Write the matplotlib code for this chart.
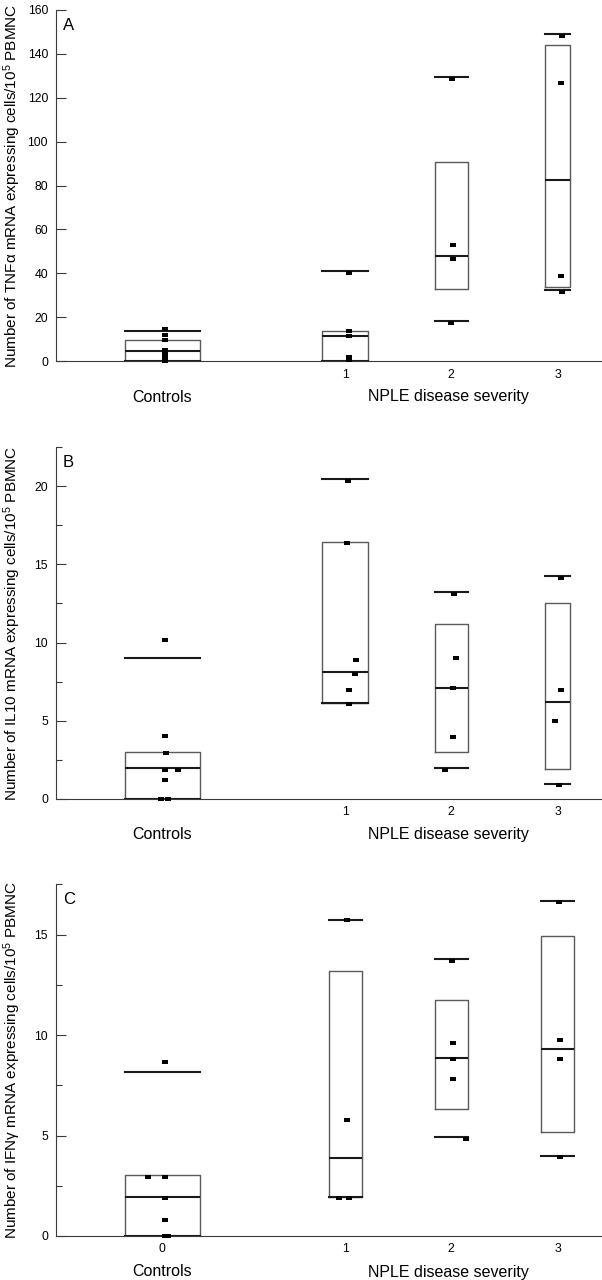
import matplotlib
matplotlib.use("Agg")
import matplotlib.pyplot as plt
import numpy as np
from matplotlib.path import Path

plt.rcParams['font.family'] = ['Liberation Sans', 'DejaVu Sans']
plt.rcParams['mathtext.fontset'] = 'custom'
plt.rcParams['mathtext.rm'] = 'Liberation Sans'
plt.rcParams['mathtext.default'] = 'regular'

# ---------------- data ----------------
positions = [-0.72, 1, 2, 3]          # Controls, severity 1, 2, 3

# Panel A: TNF-alpha
tnf_low  = [0.0, 0.0, 18.2, 32.4]
tnf_q1   = [0.0, 0.0, 32.7, 33.8]
tnf_med  = [4.5, 11.5, 48.0, 82.6]
tnf_q3   = [9.4, 13.9, 90.5, 144.1]
tnf_high = [13.9, 41.1, 129.5, 148.9]
tnf_ctrl = [14.5, 11.8, 9.5, 5.0, 3.8, 2.5, 1.3, 0.0]
tnf_s1   = [40.2, 13.9, 11.2, 1.8, 0.6]
tnf_s2   = [128.6, 52.9, 46.5, 17.4]
tnf_s3   = [148.0, 126.7, 38.6, 31.5]

# Panel B: IL10
il10_low  = [0.0, 6.1, 1.94, 0.96]
il10_q1   = [0.0, 6.1, 3.0, 1.92]
il10_med  = [1.98, 8.12, 7.1, 6.16]
il10_q3   = [3.0, 16.46, 11.19, 12.54]
il10_high = [8.98, 20.44, 13.22, 14.24]
il10_ctrl = [10.13, 3.99, 2.92, 1.85, 1.85, 1.22, 0.0, 0.0]
il10_s1   = [20.36, 16.36, 8.91, 7.97, 6.99, 6.08]
il10_s2   = [13.1, 9.04, 7.06, 3.97, 1.81]
il10_s3   = [14.15, 6.93, 4.99, 0.87]

# Panel C: IFN-gamma
ifn_low  = [0.0, 1.94, 4.95, 4.0]
ifn_q1   = [0.0, 1.94, 6.33, 5.17]
ifn_med  = [1.93, 3.87, 8.86, 9.30]
ifn_q3   = [3.02, 13.18, 11.72, 14.93]
ifn_high = [8.17, 15.73, 13.79, 16.67]
ifn_ctrl = [8.64, 2.94, 2.94, 1.89, 0.81, 0.0, 0.0]
ifn_s1   = [15.70, 5.75, 1.91, 1.91]
ifn_s2   = [13.69, 9.62, 8.82, 7.81, 4.85]
ifn_s3   = [16.62, 9.75, 8.80, 3.92]

# horizontal jitter of the points (data units)
jit_tnf = [[0.025] * 8, [0.04] * 5, [0.01, 0.02, 0.02, 0.0], [0.04, 0.03, 0.03, 0.04]]
jit_il10 = [[0.02, 0.02, 0.03, 0.02, 0.15, 0.02, -0.01, 0.05],
            [0.03, 0.015, 0.10, 0.09, 0.04, 0.04],
            [0.03, 0.045, 0.015, 0.015, -0.06],
            [0.03, 0.03, -0.02, 0.015]]
jit_ifn = [[0.02, -0.135, 0.025, 0.02, 0.02, 0.02, 0.05],
           [0.015, 0.02, -0.055, 0.04],
           [0.01, 0.015, 0.015, 0.015, 0.135],
           [0.01, 0.02, 0.02, 0.02]]

ylabels = ['Number of TNF\u03b1 mRNA expressing cells/10$^{5}$ PBMNC',
           'Number of IL10 mRNA expressing cells/10$^{5}$ PBMNC',
           'Number of IFN\u03b3 mRNA expressing cells/10$^{5}$ PBMNC']
panel_letters = ['A', 'B', 'C']
xcat_labels = ['Controls', 'NPLE disease severity']

# ---------------- layout ----------------
W, H = 602, 1280
fig = plt.figure(figsize=(W / 100, H / 100), dpi=100)
ax_left = 56.4
px_per_unit = 106.2
x_lo = 1 + (ax_left - 345.1) / px_per_unit
x_hi = 1 + (W - 345.1) / px_per_unit

panels = [
    dict(y0=361.0, y1=10.0, ylim=(0, 160), major=20, minor=None,
         stats=(tnf_low, tnf_q1, tnf_med, tnf_q3, tnf_high),
         pts=[tnf_ctrl, tnf_s1, tnf_s2, tnf_s3], jit=jit_tnf,
         widths=[0.70, 0.43, 0.315, 0.23], xt=[1, 2, 3], xtl=['1', '2', '3']),
    dict(y0=798.7, y1=447.3, ylim=(0, 22.5), major=5, minor=2.5,
         stats=(il10_low, il10_q1, il10_med, il10_q3, il10_high),
         pts=[il10_ctrl, il10_s1, il10_s2, il10_s3], jit=jit_il10,
         widths=[0.70, 0.43, 0.315, 0.23], xt=[1, 2, 3], xtl=['1', '2', '3']),
    dict(y0=1236.0, y1=884.3, ylim=(0, 17.5), major=5, minor=2.5,
         stats=(ifn_low, ifn_q1, ifn_med, ifn_q3, ifn_high),
         pts=[ifn_ctrl, ifn_s1, ifn_s2, ifn_s3], jit=jit_ifn,
         widths=[0.70, 0.31, 0.31, 0.31], xt=[-0.72, 1, 2, 3], xtl=['0', '1', '2', '3']),
]

rect_marker = Path([(-1, -0.72), (1, -0.72), (1, 0.72), (-1, 0.72), (-1, -0.72)],
                   [Path.MOVETO, Path.LINETO, Path.LINETO, Path.LINETO, Path.CLOSEPOLY])

spine_col = '#3a3a3a'
for i, p in enumerate(panels):
    ax = fig.add_axes([ax_left / W, (H - p['y0']) / H, (W - ax_left) / W, (p['y0'] - p['y1']) / H])
    lo, q1, med, q3, hi = p['stats']
    bstats = [dict(whislo=lo[k], q1=q1[k], med=med[k], q3=q3[k], whishi=hi[k], fliers=[])
              for k in range(4)]
    ax.bxp(bstats, positions=positions, widths=p['widths'], capwidths=p['widths'],
           showfliers=False, patch_artist=False,
           boxprops=dict(color='#5a5a5a', linewidth=1.0),
           medianprops=dict(color='#1a1a1a', linewidth=1.5),
           whiskerprops=dict(linewidth=0, alpha=0),
           capprops=dict(color='#1a1a1a', linewidth=1.5),
           manage_ticks=False)
    for k in range(4):
        xs = np.full(len(p['pts'][k]), positions[k], dtype=float) + np.array(p['jit'][k])
        ax.plot(xs, p['pts'][k], linestyle='none', marker=rect_marker, markersize=4.2,
                color='black', markeredgewidth=0, clip_on=False, zorder=5)

    ax.set_xlim(x_lo, x_hi)
    ax.set_ylim(*p['ylim'])
    ax.set_yticks(np.arange(0, p['ylim'][1] + 0.01, p['major']))
    if p['minor']:
        ax.set_yticks(np.arange(p['minor'], p['ylim'][1] + 0.01, p['minor'] * 2), minor=True)
    ax.tick_params(axis='y', which='major', direction='in', length=7, width=0.8,
                   color=spine_col, labelsize=8.8, pad=6)
    ax.tick_params(axis='y', which='minor', direction='in', length=4, width=0.8, color=spine_col)
    ax.set_xticks(p['xt'])
    ax.set_xticklabels(p['xtl'])
    ax.tick_params(axis='x', length=0, labelsize=8.8, pad=5.4)

    for s in ['top', 'right']:
        ax.spines[s].set_visible(False)
    for s in ['left', 'bottom']:
        ax.spines[s].set_color(spine_col)
        ax.spines[s].set_linewidth(0.8)

    ax.set_ylabel(ylabels[i], fontsize=11, va='center')
    ax.yaxis.set_label_coords((12.5 - ax_left) / (W - ax_left), 0.5)

    ax.text((63 - ax_left) / (W - ax_left), 1 - 8.0 / (p['y0'] - p['y1']), panel_letters[i],
            transform=ax.transAxes, fontsize=12, ha='left', va='top')

    ax.annotate(xcat_labels[0], xy=(positions[0], 0), xycoords=('data', 'axes fraction'),
                xytext=(0, -40.5), textcoords='offset pixels', ha='center', va='baseline',
                fontsize=11.5, annotation_clip=False)
    ax.annotate(xcat_labels[1], xy=(1.97, 0), xycoords=('data', 'axes fraction'),
                xytext=(0, -40.5), textcoords='offset pixels', ha='center', va='baseline',
                fontsize=11.5, annotation_clip=False)

fig.savefig('out.png', dpi=100)
